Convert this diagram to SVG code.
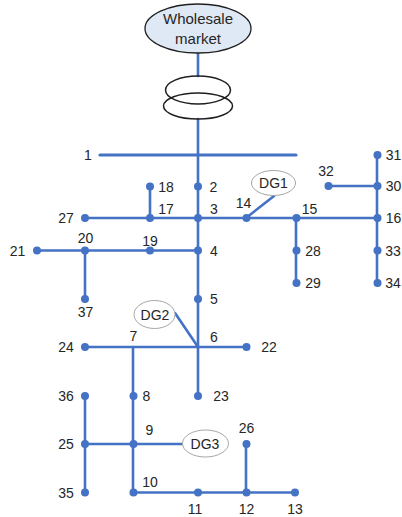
<svg xmlns="http://www.w3.org/2000/svg" width="402" height="517" viewBox="0 0 402 517">
<style>
.w{fill:none;stroke:#4472c4;stroke-width:2.6;stroke-linecap:round}
.b1{stroke-width:3.2}
.bus{fill:#4472c4}
.e{fill:#fff;stroke:#a6a6a6;stroke-width:1}
.t{fill:none;stroke:#1f1f1f;stroke-width:1.5}
text{font-family:"Liberation Sans",Arial,sans-serif;font-size:14px;fill:#262626;text-anchor:middle}
</style>
<rect width="402" height="517" fill="#fff"/>
<g id="connectors">
<path class="w" d="M198 53V76M198 119V396"/>
<path class="w b1" d="M100 155H296"/>
<path class="w" d="M85 218H377M150 186V218M328 186H377M377 155V283M296 218V283M37 250.500H198M85 250.500V299M85 347H246M133 347V492.500M85 396V492.500M85 444H183M133 492.500H295M246 444V492.500M246 218L274 196M198 347L175 313"/>
</g>
<g id="wholesale-market"><ellipse cx="198" cy="28.500" rx="53" ry="24.500" fill="#dfe8f5" stroke="#1f1f1f" stroke-width="1.300"/><text x="198" y="24" font-size="15" style="font-size:15px">Wholesale</text><text x="198" y="44" style="font-size:15px">market</text></g>
<g id="transformer"><ellipse class="t" cx="198" cy="90" rx="32.500" ry="14"/><ellipse class="t" cx="198" cy="106" rx="34.500" ry="13"/></g>
<g id="dg1"><ellipse class="e" cx="273.500" cy="183" rx="22" ry="12.500"/><text x="273.500" y="188">DG1</text></g>
<g id="dg2"><ellipse class="e" cx="154.500" cy="314.500" rx="20.500" ry="14"/><text x="155" y="319.500">DG2</text></g>
<g id="dg3"><ellipse class="e" cx="205.500" cy="443.500" rx="23" ry="13.500"/><text x="205" y="448.500">DG3</text></g>
<g id="n2"><circle class="bus" cx="198" cy="186.500" r="4"/><text x="213.500" y="191.500">2</text></g>
<g id="n3"><circle class="bus" cx="198" cy="218" r="4"/><text x="214" y="213.500">3</text></g>
<g id="n4"><circle class="bus" cx="198" cy="250.500" r="4"/><text x="214" y="255.500">4</text></g>
<g id="n5"><circle class="bus" cx="198" cy="299" r="4"/><text x="214" y="304">5</text></g>
<g id="n6"><text x="214" y="342">6</text></g>
<g id="n1"><text x="88" y="159.500">1</text></g>
<g id="n7"><text x="133.500" y="341">7</text></g>
<g id="n8"><circle class="bus" cx="133.500" cy="396" r="4"/><text x="146.500" y="401">8</text></g>
<g id="n9"><circle class="bus" cx="133.500" cy="444" r="4"/><text x="149.500" y="435">9</text></g>
<g id="n10"><circle class="bus" cx="133.500" cy="492.500" r="4"/><text x="150" y="487">10</text></g>
<g id="n11"><circle class="bus" cx="198" cy="492.500" r="4"/><text x="195" y="514">11</text></g>
<g id="n12"><circle class="bus" cx="246.500" cy="492.500" r="4"/><text x="246.500" y="514">12</text></g>
<g id="n13"><circle class="bus" cx="295" cy="492.500" r="4"/><text x="295" y="514">13</text></g>
<g id="n14"><circle class="bus" cx="246.500" cy="218" r="4"/><text x="243.500" y="207.500">14</text></g>
<g id="n15"><circle class="bus" cx="296.500" cy="218" r="4"/><text x="309.500" y="213.500">15</text></g>
<g id="n16"><circle class="bus" cx="377.500" cy="218" r="4"/><text x="393.500" y="223">16</text></g>
<g id="n17"><circle class="bus" cx="150" cy="218" r="4"/><text x="166" y="213.500">17</text></g>
<g id="n18"><circle class="bus" cx="150" cy="186.500" r="4"/><text x="166" y="191.500">18</text></g>
<g id="n19"><circle class="bus" cx="150" cy="250.500" r="4"/><text x="150" y="246">19</text></g>
<g id="n20"><circle class="bus" cx="85" cy="250.500" r="4"/><text x="85.500" y="243">20</text></g>
<g id="n21"><circle class="bus" cx="37" cy="250.500" r="4"/><text x="17.500" y="255.500">21</text></g>
<g id="n22"><circle class="bus" cx="246.500" cy="347" r="4"/><text x="269" y="352">22</text></g>
<g id="n23"><circle class="bus" cx="198" cy="396" r="4"/><text x="221" y="401">23</text></g>
<g id="n24"><circle class="bus" cx="85" cy="347" r="4"/><text x="66" y="352">24</text></g>
<g id="n25"><circle class="bus" cx="85" cy="444" r="4"/><text x="66" y="449">25</text></g>
<g id="n26"><circle class="bus" cx="246.500" cy="444" r="4"/><text x="246.500" y="433">26</text></g>
<g id="n27"><circle class="bus" cx="85" cy="218" r="4"/><text x="66" y="223">27</text></g>
<g id="n28"><circle class="bus" cx="296.500" cy="250.500" r="4"/><text x="313" y="255.500">28</text></g>
<g id="n29"><circle class="bus" cx="296.500" cy="283" r="4"/><text x="313" y="288">29</text></g>
<g id="n30"><circle class="bus" cx="377.500" cy="186" r="4"/><text x="393.500" y="191">30</text></g>
<g id="n31"><circle class="bus" cx="377.500" cy="155" r="4"/><text x="393.500" y="160">31</text></g>
<g id="n32"><circle class="bus" cx="328.500" cy="186" r="4"/><text x="326" y="175.500">32</text></g>
<g id="n33"><circle class="bus" cx="377.500" cy="250.500" r="4"/><text x="393" y="255.500">33</text></g>
<g id="n34"><circle class="bus" cx="377.500" cy="283" r="4"/><text x="393" y="288">34</text></g>
<g id="n35"><circle class="bus" cx="85" cy="492.500" r="4"/><text x="66" y="497.500">35</text></g>
<g id="n36"><circle class="bus" cx="85" cy="396" r="4"/><text x="66" y="401">36</text></g>
<g id="n37"><circle class="bus" cx="85" cy="299" r="4"/><text x="85.500" y="317">37</text></g>
</svg>
